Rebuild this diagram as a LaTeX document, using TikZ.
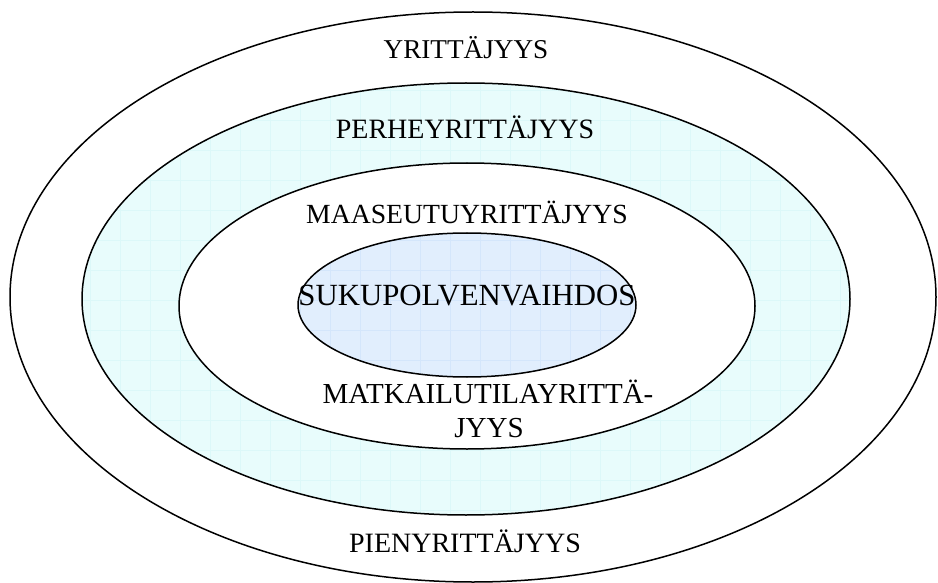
\documentclass[tikz,border=0pt]{standalone}
\usepackage{fontspec}
\setmainfont{Liberation Serif}
\usetikzlibrary{shapes.geometric}
\definecolor{ringfill}{RGB}{232,252,252}
\definecolor{ringgrid}{RGB}{220,248,249}
\definecolor{corefill}{RGB}{225,238,253}
\definecolor{coregrid}{RGB}{212,230,251}
\tikzset{
  ring/.style={ellipse, draw=black, line width=1.5pt, inner sep=0pt},
  lbl/.style={anchor=base, inner sep=0pt, font=\fontsize{#1}{33}\selectfont},
  lbl/.default=28,
}
\begin{document}
\begin{tikzpicture}[x=1pt,y=-1pt]
\useasboundingbox (0,0) rectangle (938,583);
% outer
\node[ring, fill=white, minimum width=926pt, minimum height=570pt] (e1) at (473,297) {};
% second ring
\node[ring, fill=ringfill, draw=none, minimum width=768pt, minimum height=432pt] (e2fill) at (466,299) {};
\begin{scope}
  \clip (466,299) ellipse [x radius=384pt, y radius=216pt];
  \draw[ringgrid, line width=0.5pt] (20,22) grid[step=30pt] (920,562);
\end{scope}
\node[ring, minimum width=768pt, minimum height=432pt] (e2) at (466,299) {};
% third
\node[ring, fill=white, minimum width=576pt, minimum height=286pt] (e3) at (467,306) {};
% core
\node[ring, fill=corefill, draw=none, minimum width=338pt, minimum height=144pt] (e4fill) at (467,305) {};
\begin{scope}
  \clip (467,305) ellipse [x radius=169pt, y radius=72pt];
  \draw[coregrid, line width=0.5pt] (20,22) grid[step=30pt] (920,562);
\end{scope}
\node[ring, minimum width=338pt, minimum height=144pt] (e4) at (467,305) {};
% labels
\node[lbl=27.2] (t1) at (466,59) {YRITTÄJYYS};
\node[lbl=28] (t2) at (465,139) {PERHEYRITTÄJYYS};
\node[lbl=27.7] (t3) at (467,223) {MAASEUTUYRITTÄJYYS};
\node[lbl=30.8] (t4) at (467,305) {SUKUPOLVENVAIHDOS};
\node[lbl=29] (t5a) at (488,403) {MATKAILUTILAYRITTÄ-};
\node[lbl=29] (t5b) at (489,437) {JYYS};
\node[lbl=28] (t6) at (465,552) {PIENYRITTÄJYYS};
\end{tikzpicture}
\end{document}
